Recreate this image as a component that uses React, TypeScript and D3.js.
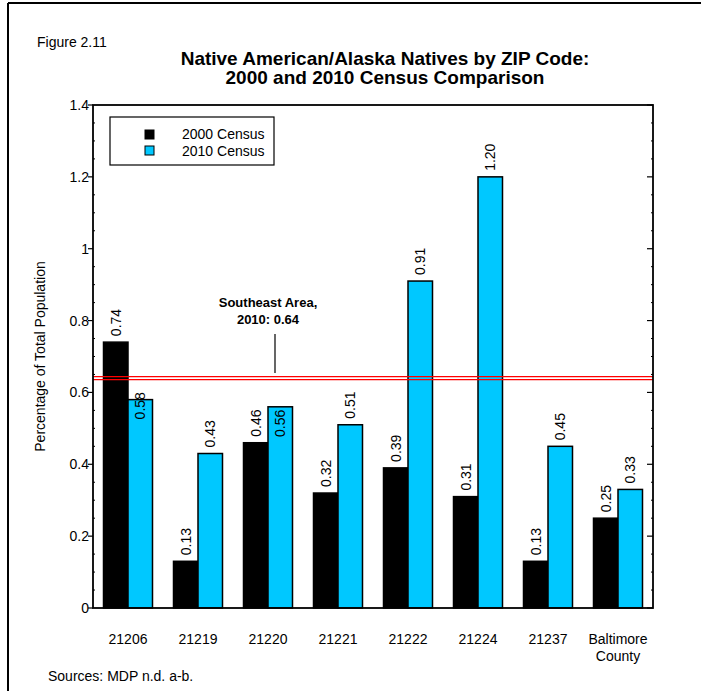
import React from "react";
import * as d3 from "d3";

const categories = ["21206", "21219", "21220", "21221", "21222", "21224", "21237", "Baltimore\nCounty"];
const census2000 = [0.74, 0.13, 0.46, 0.32, 0.39, 0.31, 0.13, 0.25];
const census2010 = [0.58, 0.43, 0.56, 0.51, 0.91, 1.2, 0.45, 0.33];
const label2000 = ["0.74", "0.13", "0.46", "0.32", "0.39", "0.31", "0.13", "0.25"];
const label2010 = ["0.58", "0.43", "0.56", "0.51", "0.91", "1.20", "0.45", "0.33"];
const seriesNames = ["2000 Census", "2010 Census"];
const yTicks = [0, 0.2, 0.4, 0.6, 0.8, 1, 1.2, 1.4];
const referenceValue = 0.64;
// manual label levels (data units) where the source placed 2010 labels over the bar top
const label2010Level: (number | null)[] = [0.525, null, 0.476, null, null, null, null, null];

const W = 701, H = 691;
const M = { left: 93, right: 653, top: 105, bottom: 608 };
const FONT = "'Liberation Sans', Arial, sans-serif";
const BLUE = "#00C8FF";
const FS = 14;

export default function App() {
  const x = d3.scaleBand<string>().domain(categories).range([M.left, M.right]).paddingInner(0.3).paddingOuter(0.15);
  const y = d3.scaleLinear().domain([0, 1.4]).range([M.bottom, M.top]);
  const bw = x.bandwidth() / 2;
  const minor = d3.range(0, 1.4001, 0.05).filter((v) => Math.abs(v / 0.2 - Math.round(v / 0.2)) > 1e-6);

  const valueLabel = (cx: number, v: number, lvl: number | null, text: string, key: string) => {
    const yy = lvl != null ? y(lvl) : y(v) - 6;
    return (
      <text key={key} transform={`translate(${cx + 5},${yy}) rotate(-90)`} fontSize={FS} fontFamily={FONT} textAnchor="start">
        {text}
      </text>
    );
  };

  return (
    <svg width={W} height={H} style={{ position: "absolute", left: 0, top: 0, background: "#fff" }}>
      {/* frame */}
      <line x1={8} y1={3} x2={W} y2={3} stroke="#000" strokeWidth={2} />
      <line x1={8} y1={3} x2={8} y2={H} stroke="#000" strokeWidth={2} />

      <text x={37} y={47} fontSize={FS} fontFamily={FONT}>Figure 2.11</text>
      <text x={385} y={65} fontSize={19} fontWeight="bold" fontFamily={FONT} textAnchor="middle">
        Native American/Alaska Natives by ZIP Code:
      </text>
      <text x={385} y={84} fontSize={19} fontWeight="bold" fontFamily={FONT} textAnchor="middle">
        2000 and 2010 Census Comparison
      </text>

      {/* bars */}
      {categories.map((c, i) => {
        const x0 = x(c)!;
        return (
          <g key={c}>
            <rect x={x0} y={y(census2000[i])} width={bw} height={y(0) - y(census2000[i])} fill="#000" stroke="#000" strokeWidth={1.5} />
            <rect x={x0 + bw} y={y(census2010[i])} width={bw} height={y(0) - y(census2010[i])} fill={BLUE} stroke="#000" strokeWidth={1.5} />
          </g>
        );
      })}

      {/* reference line */}
      <line x1={M.left} x2={M.right} y1={y(referenceValue) - 1.5} y2={y(referenceValue) - 1.5} stroke="#ff0000" strokeWidth={1.2} />
      <line x1={M.left} x2={M.right} y1={y(referenceValue) + 1.5} y2={y(referenceValue) + 1.5} stroke="#ff0000" strokeWidth={1.2} />
      <line x1={275} x2={275} y1={334} y2={373} stroke="#000" strokeWidth={1.2} />
      <text x={268} y={307} fontSize={13} fontWeight="bold" fontFamily={FONT} textAnchor="middle">Southeast Area,</text>
      <text x={268} y={324} fontSize={13} fontWeight="bold" fontFamily={FONT} textAnchor="middle">2010: 0.64</text>

      {/* value labels */}
      {categories.map((c, i) => {
        const x0 = x(c)!;
        return (
          <g key={"l" + c}>
            {valueLabel(x0 + bw / 2, census2000[i], null, label2000[i], "a")}
            {valueLabel(x0 + bw * 1.5, census2010[i], label2010Level[i], label2010[i], "b")}
          </g>
        );
      })}

      {/* plot frame */}
      <rect x={M.left} y={M.top} width={M.right - M.left} height={M.bottom - M.top} fill="none" stroke="#000" strokeWidth={1.8} />

      {/* y ticks */}
      {yTicks.map((t) => (
        <g key={t}>
          <line x1={M.left - 5} x2={M.left} y1={y(t)} y2={y(t)} stroke="#000" strokeWidth={1.2} />
          <line x1={M.right - 6} x2={M.right} y1={y(t)} y2={y(t)} stroke="#000" strokeWidth={1.2} />
          <text x={M.left - 4} y={y(t) + 5} fontSize={FS} fontFamily={FONT} textAnchor="end">{d3.format("~g")(t)}</text>
        </g>
      ))}
      {minor.map((t) => (
        <g key={"m" + t}>
          <line x1={M.left} x2={M.left + 2} y1={y(t)} y2={y(t)} stroke="#000" strokeWidth={1} />
          <line x1={M.right - 2} x2={M.right} y1={y(t)} y2={y(t)} stroke="#000" strokeWidth={1} />
        </g>
      ))}

      {/* x labels */}
      {categories.map((c) => (
        <text key={"x" + c} x={x(c)! + x.bandwidth() / 2} y={644} fontSize={FS} fontFamily={FONT} textAnchor="middle">
          {c.split("\n").map((s, k) => (
            <tspan key={k} x={x(c)! + x.bandwidth() / 2} dy={k === 0 ? 0 : 17}>{s}</tspan>
          ))}
        </text>
      ))}

      <text transform={`translate(45,${(M.top + M.bottom) / 2}) rotate(-90)`} fontSize={FS} fontFamily={FONT} textAnchor="middle">
        Percentage of Total Population
      </text>

      {/* legend */}
      <rect x={110} y={117} width={164} height={48} fill="#fff" stroke="#000" strokeWidth={1.2} />
      <rect x={145} y={130} width={9} height={9} fill="#000" stroke="#000" />
      <rect x={145} y={146} width={9} height={9} fill={BLUE} stroke="#000" />
      <text x={182} y={139} fontSize={FS} fontFamily={FONT}>{seriesNames[0]}</text>
      <text x={182} y={156} fontSize={FS} fontFamily={FONT}>{seriesNames[1]}</text>

      <text x={48} y={681} fontSize={FS} fontFamily={FONT}>Sources: MDP n.d. a-b.</text>
    </svg>
  );
}
